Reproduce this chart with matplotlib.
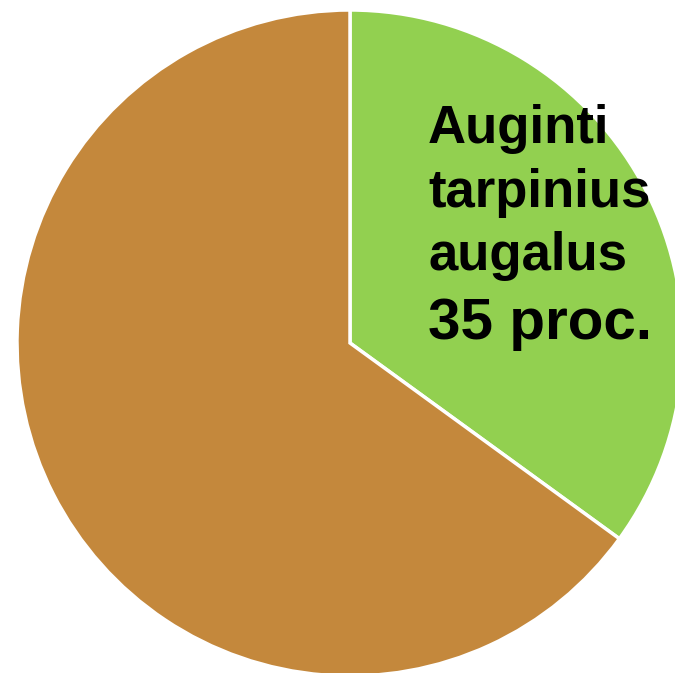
import matplotlib
matplotlib.use("Agg")
import matplotlib.pyplot as plt

# duomenys
labels = ["Auginti tarpinius augalus", "Kita"]
shares = [35, 65]
colors = ["#92D050", "#C4883C"]
label_lines = ["Auginti", "tarpinius", "augalus"]
pct_text = "35 proc."

W, H = 675, 673
fig = plt.figure(figsize=(W / 100, H / 100), dpi=100)

# pie center ~ (350, 343) px from top-left, radius ~333 px
cx, cy, r = 350, 343, 333
ax = fig.add_axes([(cx - r) / W, (H - cy - r) / H, 2 * r / W, 2 * r / H])
ax.pie(shares, colors=colors, startangle=90, counterclock=False,
       radius=1, wedgeprops=dict(edgecolor="white", linewidth=2.5))
ax.set_xlim(-1, 1)
ax.set_ylim(-1, 1)
ax.set_aspect("equal")
ax.axis("off")

# label: baselines (px from top)
x0 = (428 - cx) / r
baselines = [143, 207, 270]
for txt, yb in zip(label_lines, baselines):
    ax.text(x0, (cy - yb) / r, txt, ha="left", va="baseline",
            fontsize=38, fontweight="bold", family="Liberation Sans")
ax.text(x0, (cy - 339) / r, pct_text, ha="left", va="baseline",
        fontsize=42, fontweight="bold", family="Liberation Sans")

fig.savefig("out.png", dpi=100)
